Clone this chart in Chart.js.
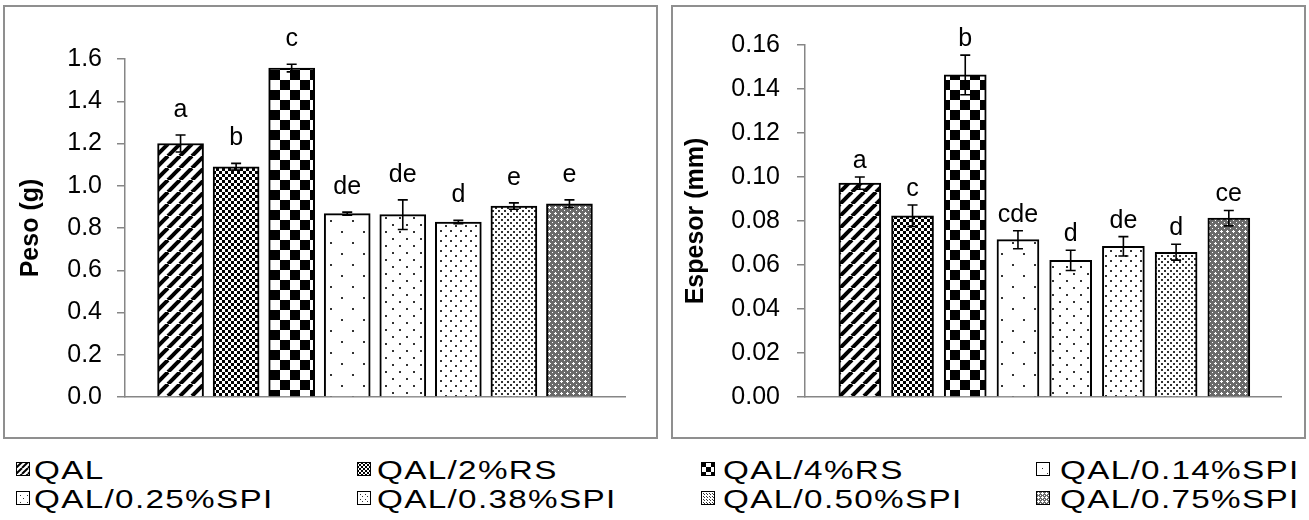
<!DOCTYPE html>
<html>
<head>
<meta charset="utf-8">
<script src="https://cdn.jsdelivr.net/npm/chart.js@4"></script>
<style>
  body { margin: 0; background: #fff; width: 1309px; height: 520px; position: relative; overflow: hidden; font-family: "Liberation Sans", Arial, sans-serif; }
  .box { position: absolute; top: 5px; height: 434px; border: 2px solid #8f8f8f; box-sizing: border-box; }
  canvas.chart { position: absolute; top: 0; }
  .key { position: absolute; height: 25px; }
  .key canvas { position: absolute; top: 4px; }
  .key span { position: absolute; top: 0; font-size: 25px; line-height: 25px; letter-spacing: 1px; white-space: nowrap; transform: scaleX(1.33); transform-origin: left center; color: #000; }
</style>
</head>
<body>
<div class="box" style="left:3px; width:655px;"></div>
<div class="box" style="left:671px; width:635px;"></div>
<div style="position:absolute; left:0; top:0; width:660px; height:440px;"><canvas id="pesoChart" class="chart"></canvas></div>
<div style="position:absolute; left:660px; top:0; width:649px; height:440px;"><canvas id="espesorChart" class="chart"></canvas></div>
<div id="legend"></div>

<script>
// Tratamientos
const tratamientos = ['QAL', 'QAL/2%RS', 'QAL/4%RS', 'QAL/0.14%SPI', 'QAL/0.25%SPI', 'QAL/0.38%SPI', 'QAL/0.50%SPI', 'QAL/0.75%SPI'];

// Peso (g)
const peso = [1.20, 1.09, 1.557, 0.868, 0.863, 0.828, 0.904, 0.915];
const pesoErr = [0.04, 0.016, 0.018, 0.007, 0.07, 0.008, 0.015, 0.018];
const pesoLetras = ['a', 'b', 'c', 'de', 'de', 'd', 'e', 'e'];
const pesoTicks = [0.0, 0.2, 0.4, 0.6, 0.8, 1.0, 1.2, 1.4, 1.6];

// Espesor (mm)
const espesor = [0.0972, 0.0824, 0.1464, 0.0715, 0.0621, 0.0685, 0.0658, 0.0813];
const espesorErr = [0.0028, 0.0049, 0.009, 0.0041, 0.0046, 0.0044, 0.0036, 0.0035];
const espesorLetras = ['a', 'c', 'b', 'cde', 'd', 'de', 'd', 'ce'];
const espesorTicks = [0.00, 0.02, 0.04, 0.06, 0.08, 0.10, 0.12, 0.14, 0.16];

const FONT = '"Liberation Sans", Arial, sans-serif';
const GRIS = '#868686';

// --- tramas de relleno (blanco y negro) ---
function tile(w, h, paint) {
  const c = document.createElement('canvas');
  c.width = w; c.height = h;
  const g = c.getContext('2d');
  g.fillStyle = '#fff';
  g.fillRect(0, 0, w, h);
  paint(g, w, h);
  return c;
}

function dots(p, d, color) {
  return tile(p, p, (g) => {
    g.fillStyle = color;
    const q = Math.round(p / 2);
    g.fillRect(0, 0, d, d);
    g.fillRect(q, q, d, d);
  });
}

function checker(n) {
  return tile(2 * n, 2 * n, (g) => {
    g.fillStyle = '#000';
    g.fillRect(0, 0, n, n);
    g.fillRect(n, n, n, n);
  });
}

const tramas = [
  // rayas diagonales
  (s) => tile(12 * s, 12 * s, (g, w) => {
    g.strokeStyle = '#000';
    g.lineWidth = 4 * s;
    for (let k = -1; k <= 1; k++) {
      g.beginPath();
      g.moveTo(k * w, w);
      g.lineTo(k * w + w, 0);
      g.stroke();
    }
  }),
  (s) => checker(Math.max(1, Math.round(3 * s))),
  (s) => checker(Math.round(10 * s)),
  (s) => dots(Math.round(22 * s), Math.max(1, Math.round(2 * s)), '#333'),
  (s) => dots(Math.round(14 * s), Math.max(1, Math.round(2 * s)), '#333'),
  (s) => dots(Math.round(10 * s), Math.max(1, Math.round(2 * s)), '#333'),
  (s) => dots(Math.max(3, Math.round(6 * s)), Math.max(1, Math.round(2 * s)), '#333'),
  // enrejado gris
  (s) => tile(Math.max(4, Math.round(6 * s)), Math.max(4, Math.round(6 * s)), (g, w) => {
    g.fillStyle = '#6a6a6a';
    g.fillRect(0, 0, w, w);
    g.fillStyle = '#fff';
    const m = Math.floor(w / 2);
    g.fillRect(m - 1, m, 3, 1);
    g.fillRect(m, m - 1, 1, 3);
    g.fillRect(0, 0, 1, 1);
  })
];

const ctxTmp = document.createElement('canvas').getContext('2d');
const rellenos = tramas.map(f => ctxTmp.createPattern(f(1), 'repeat'));

// barras de error + letras de significancia
const anotaciones = {
  id: 'anotaciones',
  afterDatasetsDraw(chart, args, opts) {
    const { ctx } = chart;
    const y = chart.scales.y;
    const meta = chart.getDatasetMeta(0);
    const vals = chart.data.datasets[0].data;
    ctx.save();
    meta.data.forEach((bar, i) => {
      const v = vals[i].y, e = opts.errores[i];
      const top = y.getPixelForValue(v + e);
      const bot = y.getPixelForValue(v - e);
      ctx.strokeStyle = '#000';
      ctx.lineWidth = 1.6;
      ctx.beginPath();
      ctx.moveTo(bar.x, top); ctx.lineTo(bar.x, bot);
      ctx.moveTo(bar.x - 5, top); ctx.lineTo(bar.x + 5, top);
      ctx.moveTo(bar.x - 5, bot); ctx.lineTo(bar.x + 5, bot);
      ctx.stroke();
      ctx.fillStyle = '#000';
      ctx.font = '25px ' + FONT;
      ctx.textAlign = 'center';
      ctx.textBaseline = 'alphabetic';
      ctx.fillText(opts.letras[i], bar.x, top - opts.sep);
    });
    ctx.restore();
  }
};

function crearGrafico(id, valores, errores, letras, ticks, titulo, geo) {
  const puntos = valores.map((v, i) => ({ x: i, y: v }));
  return new Chart(document.getElementById(id), {
    type: 'bar',
    data: {
      datasets: [{
        label: titulo,
        data: puntos,
        backgroundColor: rellenos,
        borderColor: '#000',
        borderWidth: 2,
        barThickness: geo.barra
      }]
    },
    options: {
      responsive: true,
      maintainAspectRatio: false,
      animation: false,
      layout: { padding: { left: 0, right: geo.derecha, top: geo.arriba, bottom: 43 } },
      plugins: {
        legend: { display: false },
        tooltip: { enabled: false },
        anotaciones: { errores, letras, sep: geo.sep }
      },
      scales: {
        x: {
          type: 'linear',
          offset: false,
          min: geo.xmin,
          max: geo.xmax,
          ticks: { display: false, stepSize: 1 },
          grid: { display: false, drawTicks: false, offset: false },
          border: { display: true, color: GRIS, width: 1.5 },
          afterFit: (s) => { s.height = 0; }
        },
        y: {
          min: ticks[0],
          max: ticks[ticks.length - 1],
          afterBuildTicks: (s) => { s.ticks = ticks.map(v => ({ value: v })); },
          ticks: {
            color: '#000',
            font: { family: FONT, size: 25 },
            padding: geo.pad,
            callback: (v) => v.toFixed(geo.dec)
          },
          grid: { drawOnChartArea: false, drawTicks: true, tickLength: 8, color: GRIS, lineWidth: 1.5 },
          border: { display: true, color: GRIS, width: 1.5 },
          title: {
            display: true,
            text: titulo,
            color: '#000',
            font: { family: FONT, size: 25, weight: 'bold' },
            padding: { top: geo.tit }
          },
          afterFit: (s) => { s.width = geo.ancho; }
        }
      }
    },
    plugins: [anotaciones]
  });
}

crearGrafico('pesoChart', peso, pesoErr, pesoLetras, pesoTicks, 'Peso (g)',
  { barra: 46, derecha: 35, arriba: 59, ancho: 125, pad: 15, dec: 1, tit: 16, sep: 18, xmin: -1.0, xmax: 8.0 });

crearGrafico('espesorChart', espesor, espesorErr, espesorLetras, espesorTicks, 'Espesor (mm)',
  { barra: 42, derecha: 28, arriba: 45, ancho: 145, pad: 17, dec: 2, tit: 21, sep: 9, xmin: -1.04, xmax: 7.99 });

// Leyenda compartida (4 columnas x 2 filas)
const colIcono = [16, 357, 701, 1036];
const colTexto = [34, 377, 723, 1060];
const filaTop = [458, 487];
const leyenda = document.getElementById('legend');
tratamientos.forEach((nombre, i) => {
  const col = i % 4, fila = Math.floor(i / 4);
  const item = document.createElement('div');
  item.className = 'key';
  item.style.left = '0px';
  item.style.top = filaTop[fila] + 'px';
  const ic = document.createElement('canvas');
  ic.width = 14; ic.height = 14;
  ic.style.left = colIcono[col] + 'px';
  const g = ic.getContext('2d');
  g.fillStyle = g.createPattern(tramas[i](0.5), 'repeat');
  g.fillRect(0, 0, 14, 14);
  g.strokeStyle = '#000';
  g.lineWidth = 1;
  g.strokeRect(0.5, 0.5, 13, 13);
  const tx = document.createElement('span');
  tx.textContent = nombre;
  tx.style.left = colTexto[col] + 'px';
  item.appendChild(ic);
  item.appendChild(tx);
  leyenda.appendChild(item);
});
</script>
</body>
</html>
